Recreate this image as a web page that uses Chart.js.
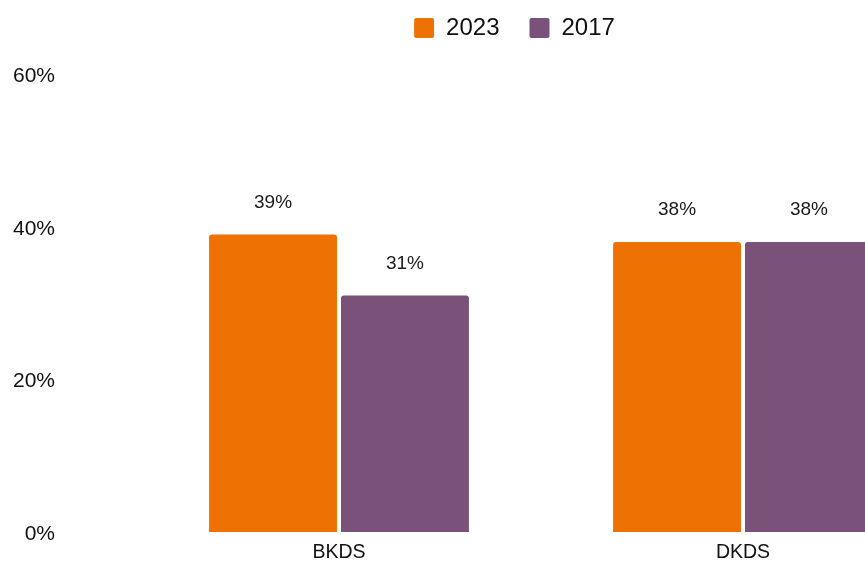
<!DOCTYPE html>
<html>
<head>
<meta charset="utf-8">
<script src="https://cdn.jsdelivr.net/npm/chart.js@4"></script>
<style>
  html, body { margin: 0; padding: 0; background: #fff; overflow: hidden; }
  #wrap { width: 1029px; height: 562px; }
</style>
</head>
<body>
<div id="wrap"><canvas id="chart" width="1029" height="562"></canvas></div>
<script>
  const categories = ["BKDS", "DKDS"];
  const seriesNames = ["2023", "2017"];
  const values2023 = [39, 38];
  const values2017 = [31, 38];
  const yTicks = [0, 20, 40, 60];

  const FONT = "'Liberation Sans', Arial, Helvetica, sans-serif";

  // draws the value above each bar
  const valueLabels = {
    id: "valueLabels",
    afterDatasetsDraw(chart) {
      const ctx = chart.ctx;
      ctx.save();
      ctx.font = "19px " + FONT;
      ctx.fillStyle = "#1a1a1a";
      ctx.textAlign = "center";
      ctx.textBaseline = "middle";
      chart.data.datasets.forEach((ds, i) => {
        chart.getDatasetMeta(i).data.forEach((bar, j) => {
          ctx.fillText(ds.data[j] + "%", bar.x, bar.y - 32);
        });
      });
      ctx.restore();
    },
  };

  new Chart(document.getElementById("chart"), {
    type: "bar",
    data: {
      labels: categories,
      datasets: [
        { label: seriesNames[0], data: values2023, backgroundColor: "#ee7203" },
        { label: seriesNames[1], data: values2017, backgroundColor: "#7a5179" },
      ],
    },
    options: {
      responsive: false,
      animation: false,
      devicePixelRatio: 1,
      categoryPercentage: 0.653,
      barPercentage: 0.97,
      borderRadius: { topLeft: 3, topRight: 3 },
      borderSkipped: "bottom",
      layout: { padding: { left: 0, right: 0, top: 6, bottom: 0 } },
      plugins: {
        tooltip: { enabled: false },
        // empty title used as a spacer between legend and plot
        title: {
          display: true,
          text: "",
          weight: 500,
          font: { size: 1 },
          padding: { top: 0, bottom: 23 },
        },
        legend: {
          position: "top",
          labels: {
            boxWidth: 20,
            boxHeight: 20,
            useBorderRadius: true,
            borderRadius: 2,
            padding: 10,
            color: "#111",
            font: { size: 24, family: FONT },
            // trailing spaces widen the gap between the two items
            generateLabels: (chart) =>
              Chart.defaults.plugins.legend.labels
                .generateLabels(chart)
                .map((l, i, all) => Object.assign(l, { text: i < all.length - 1 ? l.text + "   " : l.text })),
          },
        },
      },
      scales: {
        x: {
          afterFit: (s) => { s.height = 30; },
          grid: { display: false, drawTicks: false },
          border: { display: false },
          ticks: { color: "#111", padding: 9, font: { size: 19.5, family: FONT } },
        },
        y: {
          min: 0,
          max: 60,
          afterBuildTicks: (s) => { s.ticks = yTicks.map((v) => ({ value: v })); },
          afterFit: (s) => {
            s.width = 137;
            s.paddingTop = 0;
            s.paddingBottom = 0;
          },
          grid: { display: false, drawTicks: false },
          border: { display: false },
          ticks: {
            color: "#111",
            padding: 82,
            labelOffset: 2,
            font: { size: 21, family: FONT },
            callback: (v) => v + "%",
          },
        },
        // empty right axis, only reserves the space on the right
        yRight: {
          position: "right",
          min: 0,
          max: 60,
          afterFit: (s) => {
            s.width = 84;
            s.paddingTop = 0;
            s.paddingBottom = 0;
          },
          grid: { display: false, drawTicks: false },
          border: { display: false },
          ticks: { display: false },
        },
      },
    },
    plugins: [valueLabels],
  });
</script>
</body>
</html>
